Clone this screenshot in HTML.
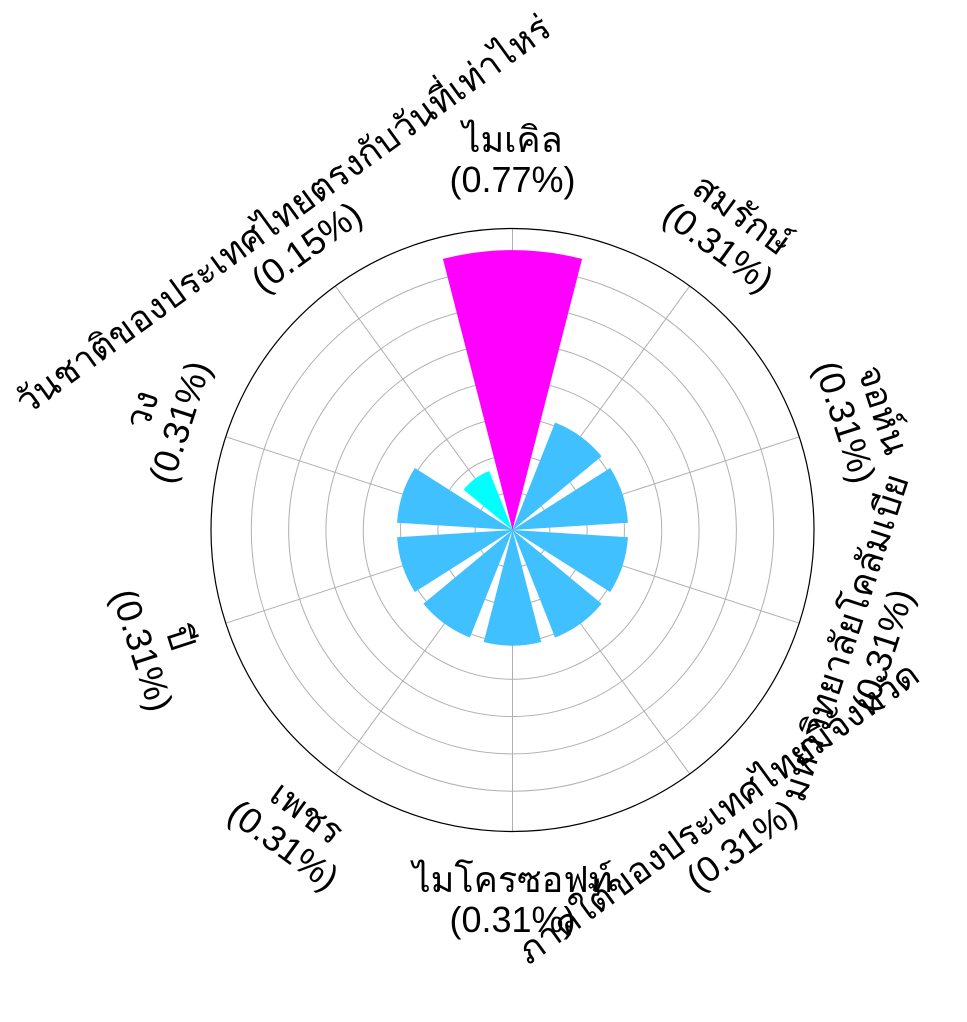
<!DOCTYPE html>
<html><head><meta charset="utf-8"><style>
body{margin:0;background:#fff;width:967px;height:1022px;overflow:hidden;position:relative;font-family:"Liberation Sans","Noto Sans CJK SC",sans-serif}
.lbl{position:absolute;font-size:36px;line-height:40px;text-align:center;white-space:nowrap;color:#000}
</style></head><body>
<svg id="chart" width="967" height="1022" style="position:absolute;left:0;top:0"></svg>
<div id="labels"></div>
<script>
const categories=["ไมเคิล","สมรักษ์","จอห์น","มหาวิทยาลัยโคลัมเบีย","ภาคใต้ของประเทศไทยมีจังหวัด","ไมโครซอฟท์","เพชร","ปี","วง","วันชาติของประเทศไทยตรงกับวันที่เท่าไหร่"];
const values=[0.75,0.31,0.31,0.31,0.31,0.31,0.31,0.31,0.31,0.17];
const pctLabels=["0.77%","0.31%","0.31%","0.31%","0.31%","0.31%","0.31%","0.31%","0.31%","0.15%"];
const colors=["#ff00ff","#40c0ff","#40c0ff","#40c0ff","#40c0ff","#40c0ff","#40c0ff","#40c0ff","#40c0ff","#00ffff"];
const ringTicks=[0.1,0.2,0.3,0.4,0.5,0.6,0.7];
const cx=512.5,cy=530,R=301.5,rmax=0.808;
const ns="http://www.w3.org/2000/svg";
const svg=document.getElementById('chart');
function rs(v){return v/rmax*R;}
function pt(r,deg){const a=deg*Math.PI/180;return [cx+r*Math.sin(a),cy-r*Math.cos(a)];}
const n=categories.length,step=360/n;
for(const t of ringTicks){const c=document.createElementNS(ns,'circle');
c.setAttribute('cx',cx);c.setAttribute('cy',cy);c.setAttribute('r',rs(t));c.setAttribute('fill','none');c.setAttribute('stroke','#b0b0b0');c.setAttribute('stroke-width','1');


svg.appendChild(c);}
for(let i=0;i<n;i++){const p=pt(R,i*step);const l=document.createElementNS(ns,'line');
l.setAttribute('x1',cx);l.setAttribute('y1',cy);l.setAttribute('x2',p[0]);l.setAttribute('y2',p[1]);l.setAttribute('stroke','#b0b0b0');


svg.appendChild(l);}
for(let i=0;i<n;i++){const r=rs(values[i]),w=step*0.8,a0=i*step-w/2,a1=i*step+w/2;
const p0=pt(r,a0),p1=pt(r,a1);
const d=`M${cx},${cy}L${p0[0]},${p0[1]}A${r},${r} 0 0 1 ${p1[0]},${p1[1]}Z`;
const b=document.createElementNS(ns,'path');b.setAttribute('d',d);b.setAttribute('fill',colors[i]);


svg.appendChild(b);}
const oc=document.createElementNS(ns,'circle');oc.setAttribute('cx',cx);oc.setAttribute('cy',cy);oc.setAttribute('r',R);oc.setAttribute('fill','none');oc.setAttribute('stroke','#000');oc.setAttribute('stroke-width','1.2');


svg.appendChild(oc);
const L=document.getElementById('labels');
for(let i=0;i<n;i++){const ang=i*step;const p=pt(370,ang);
let rot=ang;if(ang>90&&ang<270)rot=ang-180;if(ang>=270)rot=ang-360;
const d=document.createElement('div');d.className='lbl';
d.innerHTML=categories[i]+'<br>('+pctLabels[i]+')';
d.style.left=p[0]+'px';d.style.top=p[1]+'px';
d.style.transform=`translate(-50%,-50%) rotate(${rot}deg)`;


L.appendChild(d);}
</script>
</body></html>
